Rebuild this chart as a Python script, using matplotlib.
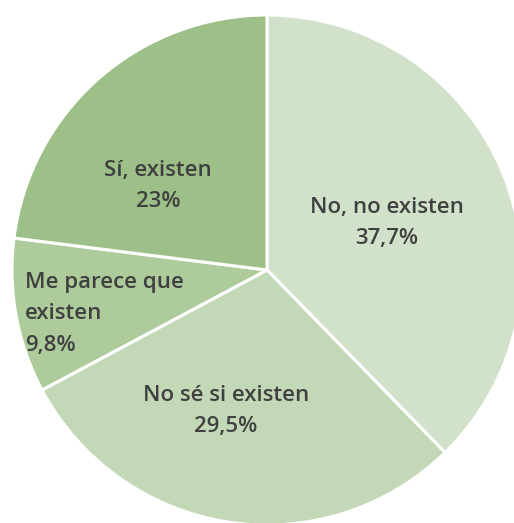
import matplotlib.pyplot as plt

categories = ["No, no existen", "No sé si existen", "Me parece que\nexisten", "Sí, existen"]
shares = [37.7, 29.5, 9.8, 23]
share_labels = ["37,7%", "29,5%", "9,8%", "23%"]
colors = ["#d2e2ca", "#c2d8b6", "#adcb9b", "#9cc087"]

plt.rcParams["font.family"] = ["Open Sans", "DejaVu Sans"]

fig = plt.figure(figsize=(5.14, 5.23), dpi=100)
ax = fig.add_axes([0, 0, 1, 1])
ax.pie(shares, colors=colors, startangle=90, counterclock=False, radius=1,
       wedgeprops=dict(edgecolor="white", linewidth=2.2))

# axis limits chosen so the pie is slightly cut on the right and bottom
scale = 255.0
ax.set_xlim(-267 / scale, (514 - 267) / scale)
ax.set_ylim(-(523 - 270) / scale, 270 / scale)
ax.set_aspect("auto")
ax.axis("off")


def px(x, y):
    return (x - 267) / scale, (270 - y) / scale


text_kw = dict(fontsize=16, fontweight="semibold", color="#404040")
label_pos = [(387, 223, "center"), (226, 411, "center"), (25, 314, "left"), (158, 186, "center")]
for cat, lab, (x, y, ha) in zip(categories, share_labels, label_pos):
    tx, ty = px(x, y)
    ax.text(tx, ty, f"{cat}\n{lab}", ha=ha, va="center", linespacing=1.65, **text_kw)

fig.savefig("out.png", dpi=100)
